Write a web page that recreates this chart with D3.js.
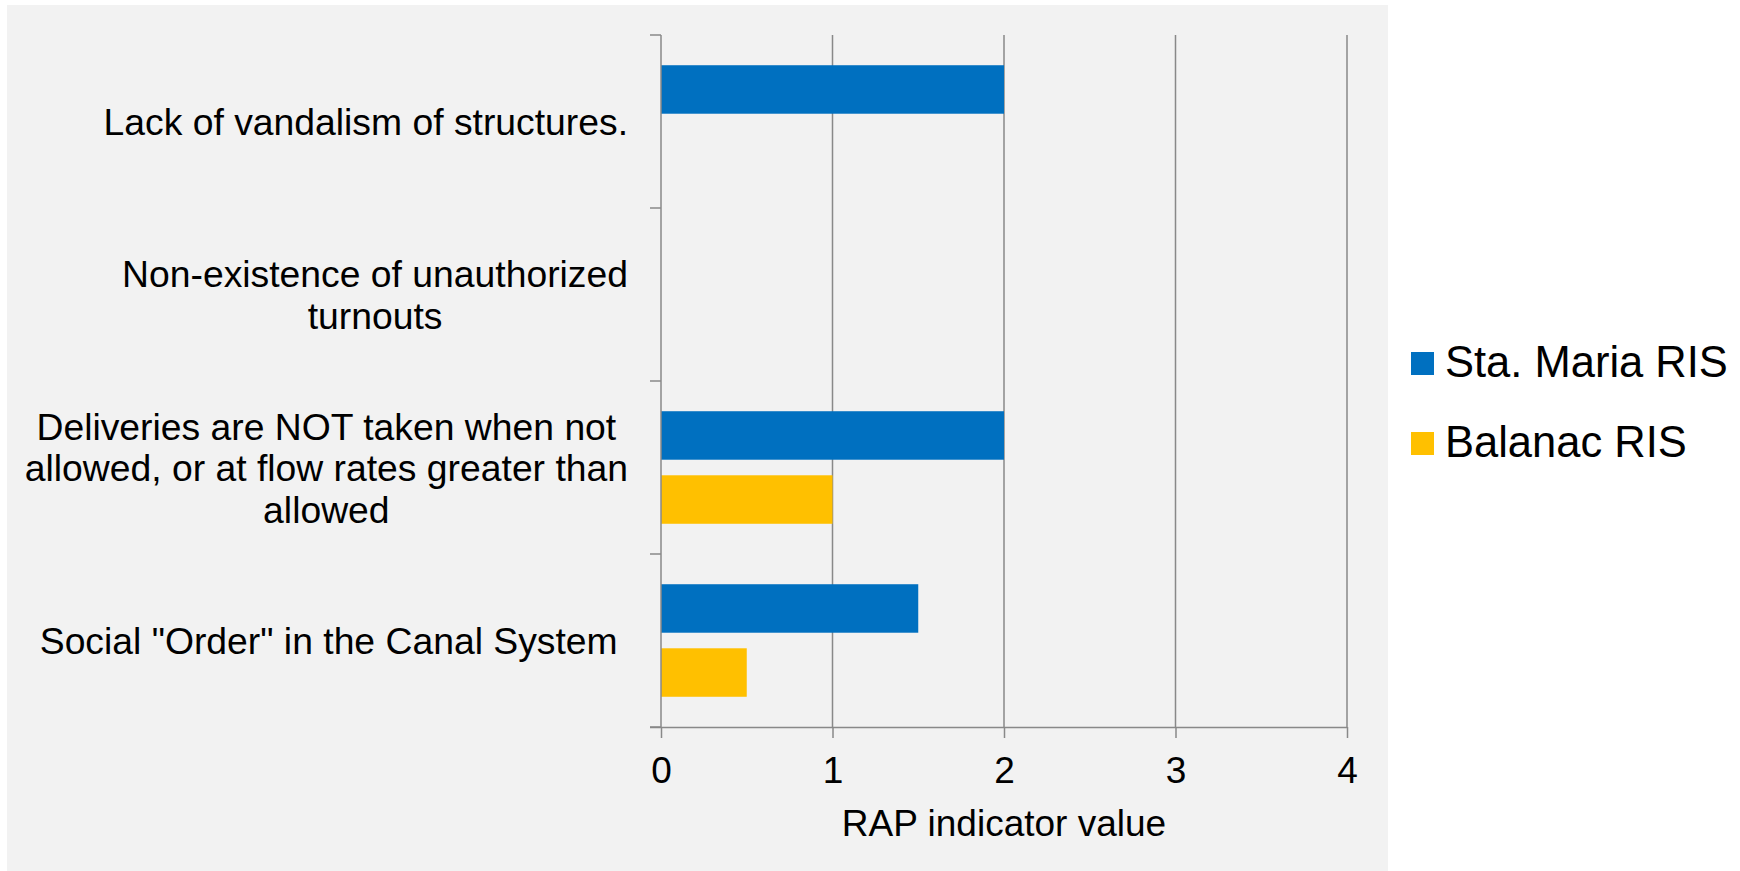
<!DOCTYPE html>
<html>
<head>
<meta charset="utf-8">
<script src="https://cdn.jsdelivr.net/npm/d3@7"></script>
<style>
  html, body { margin: 0; padding: 0; background: #ffffff; }
  svg { display: block; }
  text { font-family: "Liberation Sans", Arial, sans-serif; fill: #000; }
</style>
</head>
<body>
<svg id="chart" width="1740" height="871"></svg>
<script>
// Indicator categories, top to bottom (line breaks as wrapped in the chart)
const categories = [
  "Lack of vandalism of structures.",
  "Non-existence of unauthorized\nturnouts",
  "Deliveries are NOT taken when not\nallowed, or at flow rates greater than\nallowed",
  "Social \"Order\" in the Canal System "
];
const seriesNames = ["Sta. Maria RIS", "Balanac RIS"];
const staMaria = [2, 0, 2, 1.5];
const balanac  = [0, 0, 1, 0.5];
const xTicks = [0, 1, 2, 3, 4];
const xTitle = "RAP indicator value";
const colors = ["#0070C0", "#FFC000"];

const svg = d3.select("#chart");
const W = 1740, H = 871;
const plot = { left: 661, right: 1347, top: 35, bottom: 727 };
const axisColor = "#898989";

// chart area background
svg.append("rect")
  .attr("x", 7).attr("y", 5)
  .attr("width", 1381).attr("height", H - 5)
  .attr("fill", "#F2F2F2");

const x = d3.scaleLinear().domain([0, 4]).range([plot.left, plot.right]);
const y = d3.scaleBand().domain(d3.range(categories.length))
  .range([plot.top, plot.bottom]).padding(0);
const ySub = d3.scaleBand().domain(d3.range(seriesNames.length))
  .range([0, y.bandwidth()]).paddingInner(0.243).paddingOuter(0.472);

// vertical gridlines
svg.append("g").selectAll("line")
  .data(xTicks.filter(t => t > 0))
  .join("line")
  .attr("x1", d => x(d)).attr("x2", d => x(d))
  .attr("y1", plot.top).attr("y2", plot.bottom)
  .attr("stroke", axisColor).attr("stroke-width", 1.5);

// bars
const values = [staMaria, balanac];
const gBars = svg.append("g");
values.forEach((vals, s) => {
  gBars.selectAll(null)
    .data(vals.map((v, i) => ({ v, i })))
    .join("rect")
    .attr("x", x(0))
    .attr("y", d => y(d.i) + ySub(s))
    .attr("width", d => x(d.v) - x(0))
    .attr("height", ySub.bandwidth())
    .attr("fill", colors[s]);
});

// x axis
const xAxis = d3.axisBottom(x).tickValues(xTicks).tickSize(11).tickPadding(19)
  .tickFormat(d3.format("d"));
const gx = svg.append("g").attr("transform", `translate(0,${plot.bottom})`).call(xAxis);
gx.select(".domain").attr("d", `M${plot.left - 11},0.5H${plot.right}`)
  .attr("stroke", axisColor).attr("stroke-width", 1.5);
gx.selectAll(".tick line").attr("stroke", axisColor).attr("stroke-width", 1.5);
gx.selectAll(".tick text")
  .attr("font-size", 37).attr("font-family", "Liberation Sans, Arial, sans-serif")
  .attr("fill", "#000").attr("dy", "0.71em");

// y axis: line with ticks at category boundaries
const boundaries = d3.range(categories.length + 1).map(i => plot.top + i * y.step());
svg.append("line")
  .attr("x1", plot.left).attr("x2", plot.left)
  .attr("y1", plot.top).attr("y2", plot.bottom)
  .attr("stroke", axisColor).attr("stroke-width", 1.5);
svg.append("g").selectAll("line")
  .data(boundaries)
  .join("line")
  .attr("x1", plot.left - 11).attr("x2", plot.left)
  .attr("y1", d => d).attr("y2", d => d)
  .attr("stroke", axisColor).attr("stroke-width", 1.5);

// category labels, each wrapped block centred on its own lines, right edge near the axis
const labelRight = 628, lineH = 41.5, fs = 37.3;
categories.forEach((c, i) => {
  const lines = c.split("\n");
  const g = svg.append("g");
  const cy = y(i) + y.bandwidth() / 2;
  const firstBase = cy + 13.5 - (lines.length - 1) * lineH / 2;
  const texts = lines.map((ln, k) => g.append("text")
    .attr("y", firstBase + k * lineH)
    .attr("font-size", fs)
    .attr("text-anchor", "middle")
    .style("white-space", "pre")
    .text(ln));
  const maxW = d3.max(texts, t => t.node().getComputedTextLength());
  texts.forEach(t => t.attr("x", labelRight - maxW / 2));
});

// x axis title
svg.append("text")
  .attr("x", (plot.left + plot.right) / 2).attr("y", 836)
  .attr("text-anchor", "middle").attr("font-size", 37)
  .text(xTitle);

// legend
const legend = svg.append("g");
seriesNames.forEach((n, s) => {
  const ly = 352 + s * 80;
  legend.append("rect").attr("x", 1411).attr("y", ly).attr("width", 23).attr("height", 23)
    .attr("fill", colors[s]);
  legend.append("text").attr("x", 1445).attr("y", ly + 25)
    .attr("font-size", 43.5).text(n);
});
</script>
</body>
</html>
